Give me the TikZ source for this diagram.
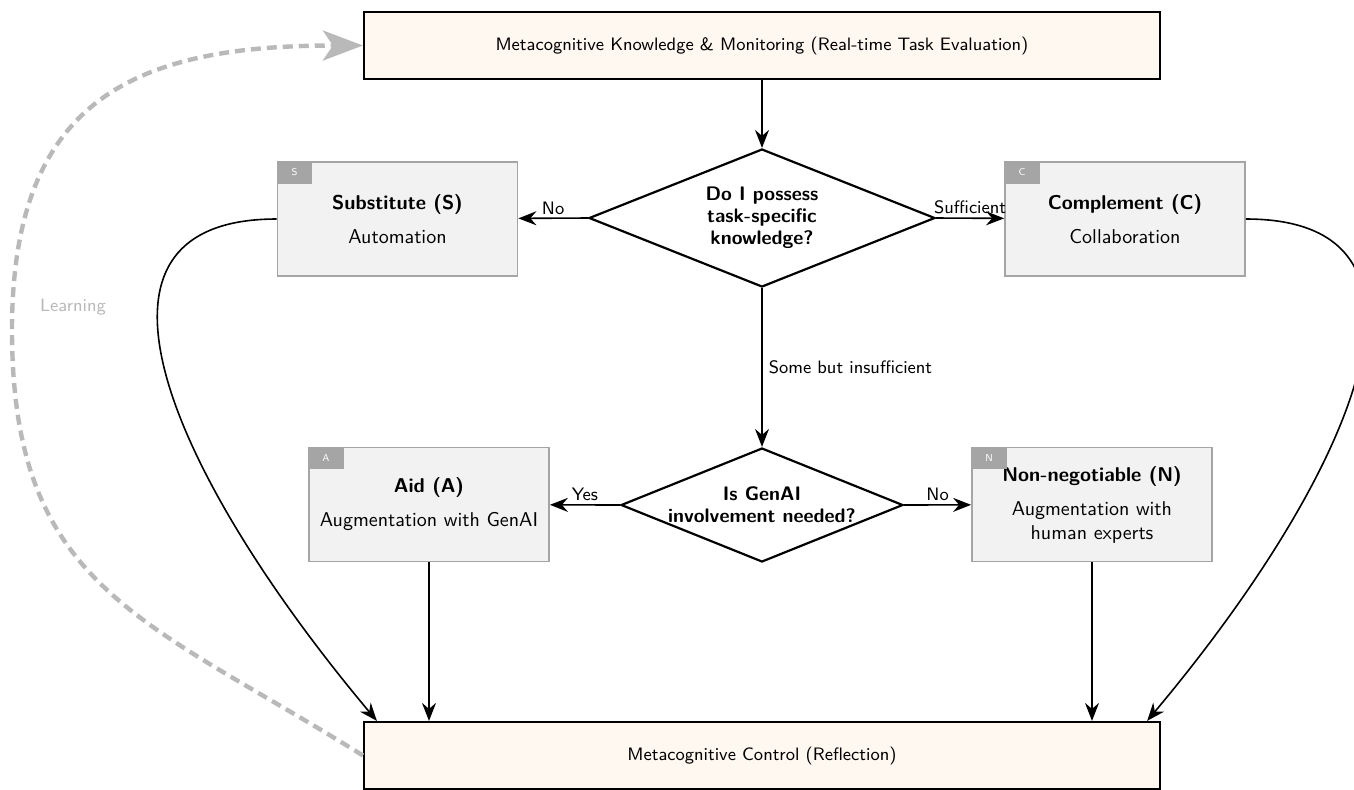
\documentclass[tikz,border=0pt]{standalone}
\usepackage{tikz}
\usetikzlibrary{shapes.geometric,arrows.meta}
\renewcommand{\familydefault}{\sfdefault}
\definecolor{metafill}{RGB}{255,248,241}
\definecolor{modefill}{RGB}{242,242,242}
\definecolor{modeline}{RGB}{165,165,165}
\definecolor{learngray}{RGB}{185,185,185}

\tikzset{
  metabox/.style={draw=black, line width=1.1pt, fill=metafill, minimum width=398pt, minimum height=33.5pt, font=\small},
  modebox/.style={draw=modeline, line width=0.9pt, fill=modefill, minimum width=120pt, minimum height=57pt, align=center, inner sep=2pt},
  tagbox/.style={fill=modeline, text=white, font=\tiny, minimum width=17.5pt, minimum height=11pt, inner sep=0pt, anchor=north west},
  decision/.style={diamond, draw, line width=1.1pt, fill=white, inner sep=0pt},
  asktext/.style={font=\fontsize{9.8}{11}\selectfont\bfseries, align=center},
  flow/.style={-{Stealth[length=9pt,width=7pt,inset=3pt]}, line width=0.8pt},
  choice/.style={font=\small, inner sep=1.5pt},
  learning/.style={-{Stealth[length=20pt,width=15pt,inset=5pt]}, draw=learngray, line width=2.2pt, dash pattern=on 5pt off 3pt},
}

\begin{document}
\begin{tikzpicture}[x=0.5pt, y=-0.5pt]
  \useasboundingbox (0,0) rectangle (1354,789);

  \node[metabox] (mon) at (762,45.5) {Metacognitive Knowledge \& Monitoring (Real-time Task Evaluation)};
  \node[metabox] (ctrl) at (762,755.5) {Metacognitive Control (Reflection)};

  \node[decision, minimum width=173pt, minimum height=69pt] (know) at (762,218) {};
  \node[asktext] (knowtext) at (know) {Do I possess\\task-specific\\knowledge?};
  \node[decision, minimum width=141pt, minimum height=57pt] (genai) at (762,505) {};
  \node[asktext] (genaitext) at (genai) {Is GenAI\\involvement needed?};

  \node[modebox] (subst) at (397.5,219) {\textbf{Substitute (S)}\\[5pt]Automation};
  \node[modebox] (compl) at (1125,219) {\textbf{Complement (C)}\\[5pt]Collaboration};
  \node[modebox] (aid) at (429,504.5) {\textbf{Aid (A)}\\[5pt]Augmentation with GenAI};
  \node[modebox] (nonneg) at (1092,504.5) {\textbf{Non-negotiable (N)}\\[5pt]Augmentation with\\human experts};

  \node[tagbox] (tagS) at (subst.north west) {S};
  \node[tagbox] (tagC) at (compl.north west) {C};
  \node[tagbox] (tagA) at (aid.north west) {A};
  \node[tagbox] (tagN) at (nonneg.north west) {N};

  \draw[flow] (mon) -- (know);
  \draw[flow] (know.west) -- node[choice, above] {No} (subst);
  \draw[flow] (know.east) -- node[choice, above] {Sufficient} (compl);
  \draw[flow] (know.south) -- node[choice, right, inner sep=3pt] {Some but insufficient} (genai.north);
  \draw[flow] (genai.west) -- node[choice, above] {Yes} (aid);
  \draw[flow] (genai.east) -- node[choice, above] {No} (nonneg);

  \draw[flow] (aid) -- (aid |- ctrl.north);
  \draw[flow] (nonneg) -- (nonneg |- ctrl.north);
  \draw[flow] (subst.west) to[out=180, in=130, out looseness=1.1, in looseness=1.6] ([xshift=7pt]ctrl.north west);
  \draw[flow] (compl.east) to[out=0, in=50, out looseness=1.1, in looseness=1.6] ([xshift=-7pt]ctrl.north east);

  \coordinate (turn) at (12,330);
  \draw[learning] (ctrl.west) to[out=148, in=-90, looseness=1.2] (turn) to[out=90, in=180, looseness=1.3] (mon.west);
  \node[font=\small, text=learngray, anchor=west] (learn) at (33,307) {Learning};
\end{tikzpicture}
\end{document}
